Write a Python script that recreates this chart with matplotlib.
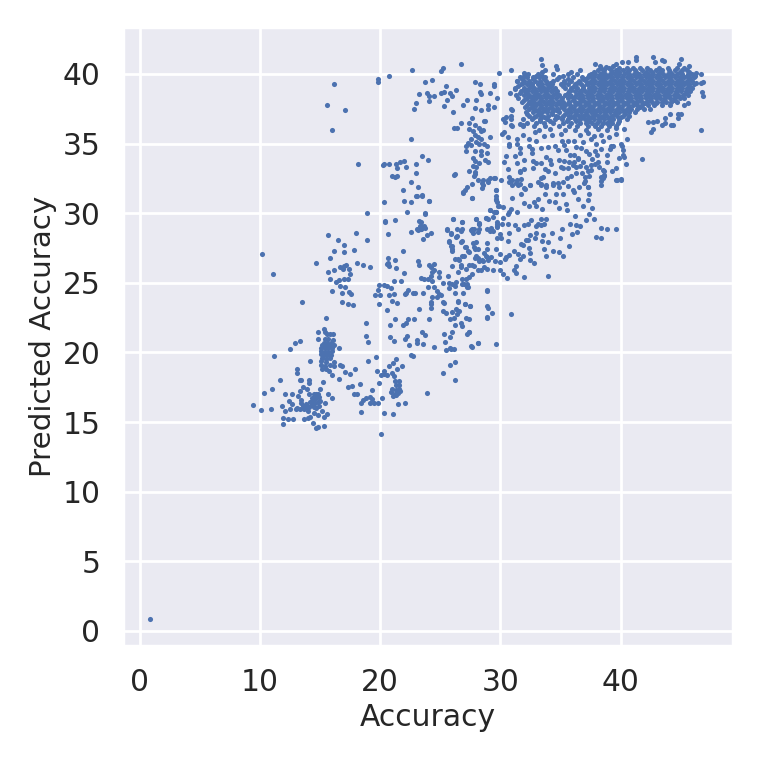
import numpy as np
import seaborn as sns
from matplotlib import pyplot as plt

# values
outlier = [(0.85, 0.85)]

low_left = [(9.4,16.2),(10.1,15.9),(10.9,15.95),(10.35,17.1),(11.0,17.4),(11.7,18.0),(11.85,16.15),(12.1,17.0),(12.7,17.0),
    (12.4,16.5),(12.65,16.3),(12.1,15.8),(12.5,15.95),(11.9,15.3),(12.3,15.25),(12.75,15.2),(11.95,14.85),(13.05,18.8),
    (13.1,18.5),(13.3,18.0),(13.45,18.05),(14.1,18.05),(14.1,17.8),(15.25,17.9),(13.55,17.5),(13.9,17.4),(13.35,17.2),
    (13.2,16.9),(14.05,17.0),(15.0,17.4),(15.65,17.05),(16.0,16.75),(15.45,16.35),(13.0,15.95),(13.3,15.95),(13.45,16.4),
    (13.55,16.15),(13.7,15.95),(14.0,15.8),(14.5,15.65),(14.85,15.5),(15.2,15.8),(15.6,15.6),(15.35,15.4),(13.7,15.25),
    (14.0,15.3),(14.2,15.35),(14.45,14.9),(14.65,14.6),(14.8,14.65),(15.3,14.75),(14.3,16.2),(14.5,16.1),(14.7,16.0),
    (14.9,16.15),(14.2,16.45),(14.4,16.5),(14.6,16.4),(14.8,16.45),(15.0,16.5),(14.3,16.7),(14.5,16.75),(14.7,16.7),
    (14.9,16.8),(14.5,17.0),(14.7,17.0),(14.85,17.05),(13.4,16.6),(13.8,16.3),(14.1,16.1),(13.9,16.05),(13.1,16.0)]

cluster_15 = [(15.5,22.45),(15.35,21.7),(15.4,21.5),(15.6,21.3),(15.8,21.3),(16.1,21.35),(14.85,21.5),(14.8,21.0),(15.4,21.0),
    (15.7,21.0),(16.1,20.9),(15.3,20.7),(15.6,20.7),(15.9,20.7),(15.2,20.5),(15.5,20.5),(15.8,20.5),(16.2,20.5),(16.6,20.35),
    (15.1,20.3),(15.4,20.3),(15.7,20.3),(16.0,20.3),(15.1,20.1),(15.4,20.0),(15.7,20.0),(16.0,20.1),(15.1,19.9),(15.3,19.8),
    (15.6,19.8),(15.9,19.85),(15.2,19.6),(15.5,19.5),(15.8,19.6),(15.1,19.4),(15.5,19.3),(15.07,19.07),(15.2,18.8),(15.5,18.8),
    (15.4,19.0),(16.15,19.3),(16.15,19.0),(15.8,19.1),(16.7,19.1),(16.8,19.0),(15.75,18.65),(16.0,18.4),(17.1,18.6),(17.5,18.45),
    (17.95,18.8),(16.6,18.1),(17.3,17.55),(17.7,17.6),(18.3,17.7),(17.8,17.0),(18.1,17.0),(14.15,19.4),(11.15,19.75),(12.5,20.25),
    (12.9,20.7),(13.3,20.85)]

cluster_16 = [(10.2,27.06),(11.1,25.6),(13.5,23.6),(15.7,28.4),(16.5,28.1),(18.0,28.6),(18.9,28.1),(17.0,27.75),(16.2,27.3),(17.0,27.2),
    (17.8,27.35),(15.8,26.8),(14.65,26.4),(18.1,26.4),(18.6,26.25),(19.2,26.1),(15.7,25.8),(16.2,25.9),(16.7,26.1),(17.0,26.2),
    (17.2,26.25),(16.9,26.0),(17.45,26.0),(17.5,25.6),(15.8,25.3),(16.3,25.05),(16.6,25.2),(17.0,25.3),(17.3,25.3),(16.7,24.8),
    (17.1,24.7),(16.0,24.4),(16.8,24.3),(17.4,24.35),(17.6,24.2),(16.8,23.6),(17.3,23.5),(17.75,23.4)]

cluster_21 = [(21.3,19.55),(19.65,19.7),(19.0,19.4),(21.1,19.25),(20.75,19.0),(21.4,18.8),(21.8,19.05),(19.7,18.65),(20.35,18.7),
    (20.3,18.45),(20.05,18.35),(20.6,18.35),(21.0,18.55),(21.15,18.3),(19.9,17.8),(21.2,17.95),(21.6,17.95),(21.3,17.65),(21.6,17.65),
    (21.0,17.4),(21.3,17.3),(21.55,17.4),(20.9,17.15),(21.2,17.05),(21.45,17.1),(21.65,17.2),(21.1,16.9),(21.35,16.95),(19.3,17.3),
    (18.4,16.4),(18.55,16.6),(18.8,16.7),(19.15,16.8),(19.35,16.65),(19.2,16.35),(19.5,16.4),(19.8,16.35),(20.15,16.7),(21.45,16.3),
    (22.1,16.4),(18.4,15.75),(20.3,15.65),(21.1,15.55),(20.05,14.15),(23.9,17.1)]

middle = [(20.4,29.4),(20.65,28.5),(22.55,28.65),(23.4,29.35),(23.3,29.1),(23.6,29.0),(23.15,28.8),(23.4,28.85),(23.7,28.95),(23.9,28.4),
    (24.2,28.6),(23.55,28.15),(21.9,27.3),(20.65,26.8),(21.2,26.65),(20.65,26.4),(20.75,26.2),(20.6,26.35),(21.3,26.05),(23.15,26.55),
    (23.2,26.25),(24.1,26.25),(24.2,26.15),(24.5,26.35),(24.3,25.75),(24.2,25.5),(24.9,25.8),(24.9,25.45),(22.0,25.7),(21.15,25.15),
    (21.7,25.15),(23.4,25.35),(23.65,25.3),(23.95,25.3),(24.3,25.1),(25.2,25.0),(24.0,24.7),(24.5,24.7),(24.7,24.4),(24.9,24.2),
    (19.9,24.85),(20.35,24.85),(20.6,24.75),(20.9,24.65),(19.8,24.5),(19.6,24.1),(20.0,24.1),(20.7,24.1),(21.15,24.2),(22.15,24.3),
    (22.05,24.2),(22.35,24.45),(22.7,24.3),(22.9,24.3),(23.6,24.3),(19.9,23.5),(20.95,23.7),(21.4,23.55),(24.2,23.6),(24.2,23.45),
    (20.55,23.05),(23.25,23.15),(21.25,22.4),(20.85,22.0),(18.8,22.1),(21.9,22.0),(22.15,22.15),(22.35,22.4),(22.8,22.4),(24.1,22.4),
    (18.85,21.2),(19.0,20.75),(20.85,21.1),(21.15,20.8),(22.2,21.2),(22.05,21.0),(22.4,20.5),(23.1,20.9),(23.1,20.65),(23.45,21.5),
    (23.75,21.25),(23.6,20.6),(24.5,20.4),(22.55,19.85),(22.75,19.75),(25.25,23.6),(26.5,23.7),(27.05,23.5),(27.45,23.35),(25.25,23.0),
    (25.5,22.85),(26.0,22.9),(26.3,23.1),(26.6,23.0),(25.8,22.4),(26.15,22.5),(26.4,22.75),(27.1,22.5),(27.4,22.4),(26.2,22.0),
    (26.7,22.1),(26.85,21.9),(27.4,21.45),(27.25,21.3),(25.3,21.3),(25.8,21.1),(26.0,21.45),(25.4,20.75),(27.55,20.45),(28.15,20.7),
    (25.5,20.2),(25.8,20.3),(26.15,20.25),(25.85,19.1),(26.2,19.3),(25.25,18.5),(26.25,18.0),(28.9,23.3),(28.9,22.55),(28.9,24.45),
    (25.6,28.8),(25.9,28.5),(26.35,28.3),(26.75,28.75),(27.6,28.75),(27.8,28.9),(28.2,29.2),(27.95,27.9),(27.8,27.55),(25.75,28.0),
    (25.9,27.65),(26.0,27.4),(26.85,28.0),(27.15,27.55),(27.4,27.2),(26.95,26.9),(26.55,26.65),(26.7,26.3),(26.0,26.2),(28.1,27.4),
    (28.65,27.15),(28.8,26.9),(28.25,26.55),(27.4,26.25),(27.8,26.2),(28.4,25.9),(28.85,26.0),(26.5,25.75),(25.65,25.5),(27.1,25.3),
    (26.85,25.25),(27.4,25.4),(26.2,24.8),(25.7,24.6),(27.3,24.7),(26.9,24.3),(26.25,24.3),(25.7,25.0),(26.0,24.95),(27.0,24.9),
    (27.25,24.7),(24.5,25.9),(25.3,23.55),(27.05,23.5),(27.5,23.35),(26.5,23.65),(28.9,24.4),(28.95,23.2),(29.3,22.8),(28.9,22.5),
    (30.9,22.75),(29.65,20.6),(28.15,20.7),(27.6,20.4),(25.9,20.25),(27.35,21.45),(24.3,24.0),(24.7,23.95),(25.1,24.1),(24.2,23.2)]

upper_mid = [(26.2,32.8),(27.85,32.8),(28.55,32.05),(28.5,31.8),(28.95,32.25),(29.5,32.55),(30.05,32.4),(29.6,31.7),(30.75,32.25),(31.0,32.0),
    (31.6,32.95),(31.7,32.45),(31.45,32.0),(32.05,31.75),(32.5,32.0),(33.4,32.1),(33.8,32.0),(34.35,32.0),(33.75,31.4),(34.05,30.9),
    (34.5,30.8),(35.2,32.25),(35.2,31.4),(35.45,30.65),(36.0,31.7),(36.45,31.05),(37.25,31.85),(37.4,31.35),(37.25,30.95),(38.35,32.05),
    (38.65,32.7),(39.65,32.4),(40.05,32.4),(29.65,31.05),(29.7,30.8),(31.0,31.1),(31.7,31.4),(26.9,31.45),(27.6,31.1),(24.1,30.85),
    (23.5,31.3),(23.7,30.0),(29.9,30.55),(30.2,30.45),(30.9,30.3),(30.75,30.1),(30.6,29.95),(31.35,30.1),(32.0,30.7),(32.4,30.55),
    (32.8,30.8),(32.95,30.55),(29.65,30.05),(29.1,30.25),(28.8,29.65),(27.95,29.6),(28.25,29.3),(26.8,29.4),(26.1,29.55),(30.2,29.65),
    (29.7,29.35),(30.15,29.2),(30.6,29.25),(29.7,29.0),(31.2,29.15),(31.45,28.9),(32.0,29.15),(32.3,29.25),(32.55,29.5),(33.15,29.25),
    (33.4,29.55),(33.8,29.6),(33.0,29.1),(33.4,29.15),(33.65,29.2),(32.95,28.6),(32.9,28.25),(32.45,28.4),(32.1,28.05),(31.75,27.8),
    (30.7,28.6),(30.6,28.0),(29.4,28.75),(29.1,28.7),(29.95,28.5),(29.75,28.25),(30.05,28.2),(28.25,28.9),(28.1,28.65),(27.65,28.85),
    (27.7,28.6),(26.8,28.85),(25.6,28.9),(25.9,28.6),(26.4,28.35),(25.75,27.9),(26.0,27.65),(26.0,27.3),(26.75,27.9),(27.05,27.55),
    (27.3,27.3),(26.85,26.95),(27.7,27.85),(27.85,27.45),(28.0,26.95),(28.85,27.85),(28.85,27.4),(28.85,26.85),(28.45,26.65),(29.2,26.85),
    (29.65,27.4),(29.95,27.05),(30.45,26.85),(30.75,27.0),(31.15,27.3),(31.45,27.05),(31.85,27.75),(32.4,27.5),(33.65,27.45),(33.8,26.9),
    (32.3,28.05),(33.5,28.0),(34.0,27.9),(32.5,27.15),(31.9,26.95),(32.5,26.65),(32.8,26.4),(31.6,26.7),(31.3,26.2),(31.15,25.9),
    (30.35,26.7),(29.95,26.5),(29.55,26.6),(29.0,26.65),(28.55,26.6),(28.1,26.75),(27.85,26.8),(26.5,26.7),(26.2,26.7),(26.7,26.1),
    (27.15,26.0),(27.6,26.3),(28.1,25.95),(28.65,26.1),(29.35,25.95),(30.0,25.9),(30.2,25.65),(30.55,25.35),(31.3,25.7),(31.95,25.4),
    (27.6,25.6),(26.35,25.05),(26.8,24.9),(27.2,24.95),(33.55,28.4),(34.3,28.55),(35.15,28.85),(34.95,28.2),(35.95,28.5),(36.4,28.65),
    (37.1,29.5),(37.8,29.55),(38.4,28.95),(37.95,28.3),(38.9,28.9),(39.65,28.9),(38.35,28.25),(35.75,29.2),(36.25,29.15),(36.2,29.8),
    (37.35,29.95),(37.65,30.4),(36.65,29.1),(35.7,27.65),(35.2,26.95),(34.0,25.5),(34.35,27.3),(34.9,27.2)]

spur_28 = [(16.2,39.3),(15.55,37.8),(17.1,37.4),(16.0,36.0),(19.8,39.65),(19.85,39.45),(20.7,39.85),(22.65,40.3),(25.25,40.45),(25.05,40.2),
    (26.7,40.7),(29.85,40.1),(23.7,39.4),(24.35,39.6),(25.5,39.15),(23.2,38.55),(23.9,38.6),(24.05,38.45),(24.5,38.4),(24.1,38.05),
    (25.1,38.65),(25.3,38.7),(25.85,38.65),(26.0,38.45),(26.3,38.85),(25.55,38.15),(23.0,37.9),(22.85,37.5),(25.35,37.7),(26.1,37.3),
    (26.9,37.8),(27.2,38.1),(27.95,38.1),(27.9,39.4),(28.3,39.25),(28.3,38.7),(28.4,38.55),(29.45,39.3),(29.45,39.15),(29.1,38.65),
    (29.75,38.3),(27.85,37.55),(28.35,37.4),(29.0,37.8),(29.0,37.5),(29.5,37.6),(27.6,36.85),(26.75,36.45),(27.4,36.5),(27.9,36.3),
    (28.6,36.6),(28.75,36.6),(26.15,36.1),(26.4,36.1),(27.4,36.05),(27.7,35.9),(28.25,36.15),(28.4,35.9),(28.55,36.0),(27.85,35.6),
    (28.1,35.5),(28.4,35.35),(29.1,35.5),(27.55,35.3),(27.3,35.05),(27.55,34.9),(27.15,34.85),(28.0,35.1),(28.25,35.0),(28.65,35.0),
    (28.85,34.85),(27.15,34.5),(27.85,34.5),(28.4,34.5),(28.4,34.2),(28.9,34.35),(27.7,33.95),(27.85,33.75),(28.25,33.6),(28.7,33.85),
    (28.95,33.65),(27.75,33.4),(27.95,33.3),(27.4,33.05),(27.9,32.95),(27.8,32.7),(22.55,35.3),(18.15,33.5),(20.2,33.45),(20.35,33.5),
    (20.7,33.55),(21.35,33.55),(21.65,33.65),(22.0,33.75),(21.4,33.25),(22.15,33.3),(23.0,33.5),(23.0,32.9),(23.5,34.1),(24.0,33.8),
    (20.95,32.7),(21.25,32.6),(21.4,32.7),(22.6,32.25),(21.9,31.65),(23.15,31.9),(22.95,31.2),(23.1,31.25),(23.45,31.25),(20.35,30.8),
    (21.95,30.9),(22.6,30.8),(24.1,30.85),(18.95,30.0),(22.2,30.05),(23.7,29.95),(20.4,29.45),(21.2,29.5),(26.15,32.75),(26.9,31.5),
    (27.6,31.1),(28.55,32.4),(28.5,32.15),(29.0,32.35),(29.15,32.5),(29.55,32.55),(29.6,31.7),(29.6,31.2),(29.65,30.95),(29.8,30.55),
    (29.1,30.2),(29.5,30.05),(29.65,30.1),(29.4,29.7),(26.1,29.55),(26.85,29.4),(27.95,29.6),(28.8,29.65),(28.95,29.55),(29.7,29.25),
    (29.7,29.1),(28.25,29.2),(27.55,28.8),(26.4,28.85),(29.2,28.95),(28.9,28.85),(23.25,29.45),(23.4,29.1),(23.65,29.1),(23.1,28.9),(23.4,28.9)]

scatter_30s = [(30.2,36.75),(30.35,36.55),(30.5,36.9),(30.9,36.95),(30.9,37.45),(30.9,36.75),(31.6,36.4),(31.9,36.3),(30.3,35.85),(30.15,35.7),
    (30.9,36.3),(31.0,36.25),(30.7,34.95),(30.75,34.8),(31.35,35.35),(31.35,34.95),(31.65,34.7),(31.65,34.3),(31.25,34.1),(30.45,34.1),
    (30.3,33.65),(30.6,33.2),(32.35,34.85),(32.65,34.6),(32.65,34.3),(32.4,35.35),(33.0,35.15),(33.4,34.7),(33.95,34.75),(34.5,34.8),
    (34.8,34.55),(35.15,35.15),(35.6,35.15),(35.45,34.55),(35.75,34.2),(36.15,35.15),(36.15,34.2),(36.45,33.95),(36.7,34.65),(37.15,34.5),
    (37.4,34.25),(37.9,34.45),(38.85,34.2),(39.2,34.85),(39.1,34.6),(37.95,35.0),(38.5,35.15),(39.35,34.85),(32.0,33.85),(32.7,33.75),
    (31.35,33.6),(33.4,33.6),(33.8,34.05),(34.1,33.8),(34.25,33.5),(34.85,33.8),(35.3,33.75),(35.7,33.65),(36.15,33.65),(36.45,33.9),
    (37.15,33.3),(37.55,33.45),(37.85,33.55),(38.15,33.65),(38.2,33.35),(32.0,33.15),(32.7,33.25),(31.6,33.0),(33.75,33.15),(34.5,32.85),
    (35.2,33.25),(35.6,33.25),(36.0,33.45),(36.25,33.3),(36.8,32.9),(37.25,33.05),(37.5,33.1),(38.5,33.1),(33.55,32.6),(33.4,32.5),
    (34.8,32.2),(35.5,32.55),(35.9,32.7),(36.3,32.85),(37.0,32.6),(37.35,32.65),(38.4,32.6),(33.1,32.25),(34.35,32.15),(36.95,32.2),
    (36.5,31.9),(33.8,31.85),(34.85,31.85),(35.6,31.95),(37.0,32.3),(36.1,31.55),(31.6,32.1),(28.1,32.35),(27.65,32.1),(27.25,31.9),
    (27.05,31.65),(30.7,32.6),(31.0,32.4),(31.35,32.4),(31.3,32.15),(32.0,31.8),(32.5,32.0),(33.35,32.05),(37.25,31.9),
    (30.6,35.45),(31.9,35.6),(32.9,35.85),(33.6,35.55),(34.3,35.65),(35.0,35.7),(36.6,35.6),(37.3,35.75),(37.8,35.55),(38.4,35.65),
    (39.0,35.5),(39.6,35.7),(35.3,34.9),(36.9,35.1),(38.0,34.2),(37.6,33.9),(35.0,33.3),(36.6,33.4),(34.0,33.0),(33.0,33.6),
    (33.2,35.95),(34.1,36.05),(35.4,36.0),(36.2,35.95),(37.1,36.0),(38.1,36.05),(38.9,36.0),(39.6,36.1),(40.3,36.05),(37.55,35.3),
    (36.3,34.75),(38.4,34.6),(38.9,33.7),(36.9,33.7),(35.5,30.2),(34.6,31.4),(33.1,31.0),(33.5,30.3),(34.9,30.4),(36.9,30.5)]

fringe = [(33.35,41.05),(33.45,40.65),(34.65,40.6),(34.7,40.35),(30.9,40.25),(31.95,40.1),(33.75,40.25),(36.65,40.25),(37.9,40.7),(38.25,40.6),
    (38.8,40.5),(39.4,40.6),(39.65,40.7),(40.15,40.85),(40.6,40.85),(41.25,41.25),(41.3,41.0),(42.7,41.25),(42.85,40.85),(43.4,41.0),
    (43.6,40.95),(45.05,41.1),(44.85,40.7),(45.65,40.6),(46.3,40.05),(46.65,40.0),(46.85,39.4),(46.7,39.35),(46.75,38.7),(46.85,38.45),
    (46.65,36.0),(42.5,35.85),(44.2,36.3),(44.35,36.3),(44.75,36.85),(45.6,37.9),(45.3,37.75),(45.05,37.15),(44.8,37.1),(44.1,37.1),
    (43.65,36.8),(43.7,36.5),(43.4,36.35),(43.0,36.6),(42.7,36.55),(42.3,36.55),(42.7,36.05),(41.8,33.9),(40.45,33.55),(40.2,34.15),
    (40.3,34.0),(39.9,33.95),(40.5,35.35),(40.05,34.95),(40.2,34.55),(40.15,34.85),(39.65,33.25),(39.25,33.05),(40.05,32.45),(39.7,32.4),
    (38.5,32.55),(38.6,32.75),(38.4,32.3),(38.65,33.0),(32.05,37.6),(31.35,39.5),(31.2,38.9),(30.8,38.6),(31.5,38.3),(31.0,37.4),(37.4,39.95),(37.0,39.65)]

dense_predicted = [40.25, 40.0, 39.75, 39.5, 39.25, 39.0, 38.75, 38.5, 38.25, 38.0, 37.75, 37.5, 37.25, 37.0, 36.75, 36.5, 36.25]
dense_accuracy = [
    [38.1, 38.6, 39.2, 39.6, 40.2, 40.7, 41.2, 41.8, 42.4, 42.9, 43.4, 44.0, 44.5, 45.1, 45.5],
    [32.3, 33.1, 34.4, 35.6, 36.4, 37.5, 37.9, 38.3, 38.7, 39.1, 39.5, 39.9, 40.3, 40.7, 41.1, 41.5, 41.9, 42.3, 42.7, 43.1, 43.5, 43.9, 44.3, 44.7, 45.1, 45.6, 45.9],
    [31.6, 32.2, 32.7, 33.2, 33.7, 34.9, 36.0, 36.8, 37.3, 37.7, 38.1, 38.5, 38.9, 39.3, 39.7, 40.1, 40.5, 40.9, 41.3, 41.7, 42.1, 42.5, 42.9, 43.3, 43.7, 44.1, 44.5, 44.9, 45.3, 45.7, 46.1],
    [31.4, 32.0, 32.4, 32.9, 33.3, 33.8, 34.4, 35.3, 35.9, 36.5, 37.1, 37.5, 37.9, 38.3, 38.7, 39.1, 39.5, 39.9, 40.3, 40.7, 41.1, 41.5, 41.9, 42.3, 42.7, 43.1, 43.5, 43.9, 44.3, 44.7, 45.1, 45.5, 45.9],
    [31.7, 32.2, 32.6, 33.1, 33.5, 33.9, 34.3, 35.0, 35.6, 36.2, 36.7, 37.2, 37.7, 38.1, 38.5, 38.9, 39.3, 39.7, 40.1, 40.5, 40.9, 41.3, 41.7, 42.1, 42.5, 42.9, 43.3, 43.7, 44.1, 44.5, 44.9, 45.3, 45.7, 46.1],
    [31.2, 32.0, 32.4, 32.8, 33.2, 33.6, 34.0, 34.5, 35.4, 35.9, 36.4, 36.9, 37.4, 37.9, 38.3, 38.7, 39.1, 39.5, 39.9, 40.3, 40.7, 41.1, 41.5, 41.9, 42.3, 42.7, 43.1, 43.5, 43.9, 44.3, 44.7, 45.1, 45.5, 45.9],
    [31.7, 32.2, 32.6, 33.0, 33.4, 33.8, 34.2, 34.7, 35.7, 36.2, 36.6, 37.0, 37.4, 37.8, 38.2, 38.6, 39.0, 39.4, 39.8, 40.2, 40.6, 41.0, 41.4, 41.8, 42.2, 42.6, 43.0, 43.4, 43.8, 44.2, 44.6, 45.0, 45.4, 45.8],
    [31.3, 32.0, 32.4, 32.8, 33.2, 33.6, 34.0, 34.4, 34.9, 35.4, 35.8, 36.3, 36.8, 37.2, 37.6, 38.0, 38.4, 38.8, 39.2, 39.6, 40.0, 40.4, 40.8, 41.2, 41.6, 42.0, 42.4, 42.8, 43.2, 43.6, 44.0, 44.4, 44.8, 45.2, 45.6],
    [32.2, 32.6, 33.0, 33.4, 33.8, 34.2, 34.6, 35.1, 35.6, 36.1, 36.5, 36.9, 37.3, 37.7, 38.1, 38.5, 38.9, 39.3, 39.7, 40.1, 40.5, 40.9, 41.3, 41.7, 42.1, 42.5, 42.9, 43.3, 43.7, 44.1, 44.5, 44.9, 45.3],
    [31.8, 32.4, 32.8, 33.2, 33.6, 34.0, 34.4, 34.8, 35.2, 35.7, 36.2, 36.6, 37.0, 37.4, 37.8, 38.2, 38.6, 39.0, 39.4, 39.8, 40.2, 40.6, 41.0, 41.4, 41.8, 42.2, 42.6, 43.0, 43.4, 43.8, 44.2, 44.7],
    [32.2, 32.6, 33.0, 33.4, 33.8, 34.2, 34.6, 35.0, 35.4, 35.8, 36.2, 36.6, 37.0, 37.4, 37.8, 38.2, 38.6, 39.0, 39.4, 39.8, 40.2, 40.6, 41.0, 41.4, 41.8, 42.3, 42.8, 43.4, 44.1],
    [32.4, 32.8, 33.2, 33.6, 34.0, 34.4, 34.8, 35.3, 35.7, 36.1, 36.5, 36.9, 37.3, 37.7, 38.1, 38.5, 38.9, 39.3, 39.7, 40.1, 40.5, 40.9, 41.4, 41.9, 42.4],
    [32.1, 32.7, 33.1, 33.5, 33.9, 34.3, 34.9, 35.5, 35.9, 36.3, 36.7, 37.1, 37.5, 37.9, 38.3, 38.7, 39.1, 39.5, 39.9, 40.3, 40.7, 41.2],
    [32.4, 33.0, 33.4, 34.0, 34.6, 35.2, 35.7, 36.1, 36.5, 36.9, 37.3, 37.7, 38.1, 38.5, 38.9, 39.3, 39.7, 40.2, 40.7],
    [31.9, 32.6, 33.3, 33.9, 34.5, 35.1, 35.6, 36.2, 36.6, 37.0, 37.4, 37.8, 38.2, 38.6, 39.0, 39.4, 39.9, 40.5],
    [32.2, 33.0, 33.6, 34.4, 35.2, 35.9, 36.6, 37.1, 37.6, 38.0, 38.5, 38.9, 39.3, 39.8],
    [31.9, 32.8, 33.7, 34.9, 35.7, 36.4, 37.3, 37.9, 38.4, 39.0, 39.6],
]

# in-between rows, the blob is not on neat lines
extra_predicted = [40.4, 40.12, 39.88, 39.62, 39.38, 39.12, 38.88, 38.62, 38.38, 38.12, 37.88, 37.62, 37.38, 37.12, 36.88, 36.62]
extra_accuracy = [
    [38.4, 39.0, 39.9, 40.5, 41.0, 41.6, 42.2, 43.2, 43.9, 44.7, 45.3],
    [37.8, 38.5, 39.3, 39.9, 40.5, 41.3, 42.1, 42.6, 43.3, 44.1, 44.9, 45.7, 33.5, 35.9],
    [32.0, 33.0, 33.5, 35.2, 37.5, 38.3, 39.1, 39.7, 40.7, 41.5, 42.3, 43.1, 43.9, 44.6, 45.5, 46.2],
    [31.8, 32.7, 33.6, 34.7, 35.6, 36.9, 37.7, 38.5, 39.3, 40.1, 40.9, 41.7, 42.5, 43.3, 44.1, 44.9, 45.8],
    [31.9, 32.4, 33.3, 34.1, 35.3, 36.4, 37.4, 38.3, 39.1, 39.9, 40.7, 41.5, 42.3, 43.1, 43.9, 44.7, 45.5, 46.3],
    [31.5, 32.6, 33.4, 34.2, 35.2, 36.1, 36.9, 37.6, 38.5, 39.3, 40.1, 40.9, 41.7, 42.5, 43.3, 44.1, 44.9, 45.7],
    [32.0, 32.8, 33.6, 34.4, 35.9, 36.8, 37.6, 38.4, 39.2, 40.0, 40.8, 41.6, 42.4, 43.2, 44.0, 44.8, 45.6],
    [31.6, 32.2, 33.0, 33.8, 34.6, 35.6, 36.5, 37.4, 38.2, 39.0, 39.8, 40.6, 41.4, 42.2, 43.0, 43.8, 44.6, 45.4],
    [32.4, 33.2, 34.0, 34.8, 35.9, 36.7, 37.5, 38.3, 39.1, 39.9, 40.7, 41.5, 42.3, 43.1, 43.9, 44.7],
    [32.0, 32.6, 33.4, 34.2, 35.0, 36.0, 36.8, 37.6, 38.4, 39.2, 40.0, 40.8, 41.6, 42.4, 43.6, 44.4],
    [32.4, 33.2, 34.0, 34.8, 35.6, 36.4, 37.2, 38.0, 38.8, 39.6, 40.4, 41.2, 42.0, 42.9],
    [32.6, 33.4, 34.2, 35.1, 35.9, 36.7, 37.5, 38.3, 39.1, 39.9, 40.7, 41.6],
    [32.9, 33.7, 34.6, 35.7, 36.5, 37.3, 38.1, 38.9, 39.7, 40.5],
    [32.2, 33.2, 34.3, 35.4, 36.3, 37.1, 37.9, 38.7, 39.5, 40.4],
    [32.8, 33.6, 34.8, 35.9, 36.8, 37.6, 38.4, 39.2, 40.0],
    [33.3, 34.1, 35.5, 36.3, 37.4, 38.2, 39.1, 39.9],
]

x_ticks = [0, 10, 20, 30, 40]
y_ticks = [0, 5, 10, 15, 20, 25, 30, 35, 40]

groups = [outlier, low_left, cluster_15, cluster_16, cluster_21, middle, upper_mid, spur_28, scatter_30s, fringe]
points = np.array([p for g in groups for p in g])
dense_x = np.concatenate([np.array(row) for row in dense_accuracy + extra_accuracy])
dense_y = np.concatenate([np.full(len(row), lvl) for lvl, row in
                          zip(dense_predicted + extra_predicted, dense_accuracy + extra_accuracy)])

sns.set_theme()
plt.rcParams['font.family'] = ['DejaVu Sans']

fig = plt.figure(figsize=(3.805, 3.805), dpi=200)
ax = fig.add_axes([122.5 / 761, 1 - 646 / 761, 610 / 761, 619 / 761])
ax.scatter(points[:, 0], points[:, 1], s=3.4, color='#4c72b0', linewidths=0)
ax.scatter(dense_x, dense_y, s=3.4, color='#4c72b0', linewidths=0)
ax.set_xlim(-1.42, 49.3)
ax.set_ylim(-1.08, 43.37)
ax.set_xticks(x_ticks)
ax.set_yticks(y_ticks)
ax.tick_params(labelsize=10.7, pad=2)
ax.set_xlabel('Accuracy', fontsize=10.7, labelpad=2)
ax.set_ylabel('Predicted Accuracy', fontsize=10.6, labelpad=2)
fig.savefig('out.png', dpi=200)
